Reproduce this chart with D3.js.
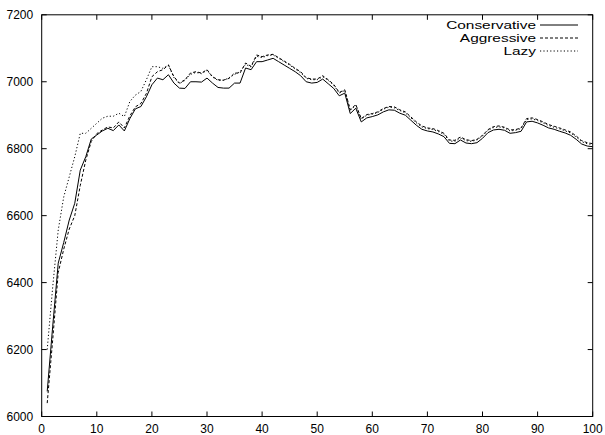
<!DOCTYPE html>
<html>
<head>
<meta charset="utf-8">
<script src="https://cdn.jsdelivr.net/npm/d3@7"></script>
<style>
  body { margin: 0; background: #fff; }
  svg { display: block; font-family: "Liberation Sans", Arial, sans-serif; }
  .tick-label { font-size: 12px; fill: #000; }
  .legend-label { font-size: 11.5px; fill: #000; }
</style>
</head>
<body>
<div id="chart"></div>
<script>
// x values (run index)
const steps = d3.range(1, 101);

// series values
const conservative = [
  6075, 6270, 6458, 6520, 6587, 6637, 6736, 6776, 6829, 6841,
  6853, 6861, 6854, 6871, 6853, 6890, 6919, 6926, 6955, 6991,
  7011, 7006, 7021, 6996, 6981, 6980, 7000, 7000, 6999, 7011,
  6996, 6983, 6981, 6981, 6996, 6996, 7041, 7036, 7060, 7060,
  7065, 7070, 7060, 7050, 7040, 7030, 7018, 7000, 6996, 6998,
  7008, 6994, 6980, 6958, 6966, 6905, 6921, 6880, 6892, 6896,
  6901, 6910, 6916, 6915, 6906, 6900, 6885, 6870, 6858, 6853,
  6850, 6844, 6836, 6816, 6815, 6826, 6817, 6815, 6818, 6831,
  6848, 6856, 6858, 6855, 6846, 6848, 6852, 6880, 6882, 6877,
  6870, 6862, 6858, 6852, 6847, 6840, 6828, 6814, 6808, 6806
];

const aggressive = [
  6040, 6230, 6430, 6500, 6560, 6600, 6690, 6766, 6822, 6845,
  6856, 6865, 6862, 6880, 6862, 6898, 6925, 6935, 6965, 7015,
  7030, 7036, 7050, 7015, 6996, 7006, 7026, 7030, 7026, 7036,
  7015, 7006, 7005, 7010, 7026, 7026, 7056, 7046, 7080, 7075,
  7080, 7082, 7072, 7062, 7052, 7040, 7030, 7012, 7008, 7008,
  7018, 7006, 6992, 6968, 6976, 6916, 6932, 6890, 6902, 6905,
  6910, 6920, 6926, 6925, 6916, 6910, 6895, 6880, 6868, 6862,
  6860, 6854, 6846, 6826, 6825, 6835, 6827, 6824, 6828, 6840,
  6857, 6866, 6868, 6864, 6856, 6857, 6862, 6890, 6892, 6887,
  6880, 6872, 6867, 6862, 6856, 6850, 6838, 6824, 6818, 6815
];

const lazy = [
  6200, 6387, 6557, 6656, 6716, 6776, 6846, 6846, 6861, 6876,
  6891, 6897, 6897, 6906, 6896, 6941, 6960, 6971, 7006, 7045,
  7045, 7040, 7050, 7012, 6994, 7004, 7022, 7028, 7024, 7034,
  7014, 7004, 7004, 7012, 7022, 7030, 7052, 7044, 7076, 7072,
  7078, 7080, 7070, 7060, 7050, 7038, 7027, 7010, 7006, 7006,
  7015, 7004, 6990, 6966, 6974, 6914, 6930, 6888, 6900, 6903,
  6908, 6918, 6924, 6922, 6914, 6907, 6892, 6877, 6865, 6860,
  6857, 6851, 6843, 6823, 6822, 6832, 6824, 6822, 6826, 6838,
  6855, 6863, 6865, 6862, 6853, 6855, 6860, 6887, 6889, 6884,
  6877, 6869, 6864, 6859, 6853, 6847, 6835, 6821, 6815, 6812
];

const seriesNames = ["Conservative", "Aggressive", "Lazy"];
const xTicks = [0, 10, 20, 30, 40, 50, 60, 70, 80, 90, 100];
const yTicks = [6000, 6200, 6400, 6600, 6800, 7000, 7200];

// setup svg
const width = 605,
      height = 435;

const plotLeft = 41.7, plotRight = 592.7, plotTop = 14.8, plotBottom = 416.5;
const tickLen = 5;

const svg = d3.select("#chart")
  .append("svg")
  .attr("width", width)
  .attr("height", height);

const xScale = d3.scaleLinear().domain([0, 100]).range([plotLeft, plotRight]);
const yScale = d3.scaleLinear().domain([6000, 7200]).range([plotBottom, plotTop]);

// ticks, mirrored on all four sides like gnuplot
const ticks = svg.append("g").attr("stroke", "#000").attr("stroke-width", 1);
xTicks.forEach(t => {
  const x = xScale(t);
  ticks.append("line").attr("x1", x).attr("x2", x).attr("y1", plotBottom).attr("y2", plotBottom - tickLen);
  ticks.append("line").attr("x1", x).attr("x2", x).attr("y1", plotTop).attr("y2", plotTop + tickLen);
});
yTicks.forEach(t => {
  const y = yScale(t);
  ticks.append("line").attr("x1", plotLeft).attr("x2", plotLeft + tickLen).attr("y1", y).attr("y2", y);
  ticks.append("line").attr("x1", plotRight).attr("x2", plotRight - tickLen).attr("y1", y).attr("y2", y);
});

// tick labels
svg.append("g").selectAll("text")
  .data(xTicks)
  .enter()
  .append("text")
  .attr("class", "tick-label")
  .attr("x", d => xScale(d))
  .attr("y", plotBottom + 16.5)
  .attr("text-anchor", "middle")
  .text(d => d);

svg.append("g").selectAll("text")
  .data(yTicks)
  .enter()
  .append("text")
  .attr("class", "tick-label")
  .attr("x", plotLeft - 8.5)
  .attr("y", d => yScale(d) + 4.3)
  .attr("text-anchor", "end")
  .text(d => d);

// frame
svg.append("rect")
  .attr("x", plotLeft)
  .attr("y", plotTop)
  .attr("width", plotRight - plotLeft)
  .attr("height", plotBottom - plotTop)
  .attr("fill", "none")
  .attr("stroke", "#000")
  .attr("stroke-width", 1);

// lines
const dashes = ["none", "3,2", "1.2,2.2"];
const allSeries = [conservative, aggressive, lazy];

const line = d3.line()
  .x((d, i) => xScale(steps[i]))
  .y(d => yScale(d));

allSeries.forEach((s, k) => {
  svg.append("path")
    .datum(s)
    .attr("d", line)
    .attr("fill", "none")
    .attr("stroke", "#000")
    .attr("stroke-width", 1)
    .attr("stroke-dasharray", dashes[k]);
});

// legend (gnuplot's font is wider, so stretch the text horizontally)
const legend = svg.append("g");
seriesNames.forEach((name, k) => {
  const y = 25 + k * 13;
  legend.append("text")
    .attr("class", "legend-label")
    .attr("transform", "translate(536," + (y + 4.2) + ") scale(1.34,1)")
    .attr("text-anchor", "end")
    .text(name);
  legend.append("line")
    .attr("x1", 540)
    .attr("x2", 578)
    .attr("y1", y)
    .attr("y2", y)
    .attr("stroke", "#000")
    .attr("stroke-width", 1)
    .attr("stroke-dasharray", dashes[k]);
});
</script>
</body>
</html>
